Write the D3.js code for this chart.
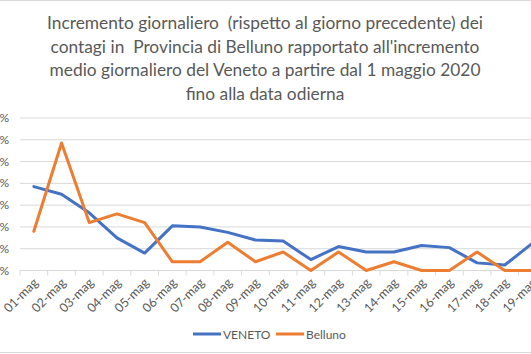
<!DOCTYPE html>
<html><head><meta charset="utf-8">
<script src="https://cdn.jsdelivr.net/npm/d3@7/dist/d3.min.js"></script>
<style>
html,body{margin:0;padding:0;background:#fff;overflow:hidden}
svg{display:block;font-family:Lato,"Open Sans",sans-serif}
</style></head>
<body>
<svg id="c" width="531" height="354"></svg>
<script>
const categories = ["01-mag","02-mag","03-mag","04-mag","05-mag","06-mag","07-mag","08-mag","09-mag","10-mag","11-mag","12-mag","13-mag","14-mag","15-mag","16-mag","17-mag","18-mag","19-mag"];
const veneto  = [0.77,0.70,0.53,0.30,0.16,0.41,0.40,0.35,0.28,0.27,0.10,0.22,0.17,0.17,0.23,0.21,0.07,0.05,0.25];
const belluno = [0.36,1.17,0.44,0.52,0.44,0.08,0.08,0.26,0.08,0.17,0.00,0.17,0.00,0.08,0.00,0.00,0.17,0.00,0.00];
const yTicks = [0,0.2,0.4,0.6,0.8,1.0,1.2,1.4];
const titleLines = ["Incremento giornaliero  (rispetto al giorno precedente) dei","contagi in  Provincia di Belluno rapportato all'incremento","medio giornaliero del Veneto a partire dal 1 maggio 2020","fino alla data odierna"];
const seriesNames = ["VENETO","Belluno"];
const colors = ["#4472C4","#ED7D31"];

const svg = d3.select("#c");
const grey = "#595959", gridC = "#d9d9d9";

// chart border
svg.append("rect").attr("x",-10).attr("y",0.5).attr("width",560).attr("height",352)
  .attr("fill","none").attr("stroke",gridC);

// title
const tg = svg.append("g");
const tl = tg.selectAll("text").data(titleLines).join("text")
  .attr("x",265).attr("y",(d,i)=>29+i*23.5).attr("text-anchor","middle")
  .attr("fill",grey).attr("font-size",18).style("white-space","pre").text(d=>d);
const w0 = tl.nodes()[0].getComputedTextLength();
tl.attr("font-size", 18*436/w0);

const x = d3.scaleBand().domain(categories).range([20, 20+19*27.7]);
const y = d3.scaleLinear().domain([0,1.4]).range([270.5,118]);

// gridlines
svg.append("g").selectAll("line").data(yTicks.slice(1)).join("line")
  .attr("x1",20).attr("x2",560).attr("y1",d=>y(d)).attr("y2",d=>y(d))
  .attr("stroke",gridC).attr("stroke-width",1);

// y labels
const fmt = d => d3.format(".1f")(d).replace(".",",")+"%";
svg.append("g").selectAll("text").data(yTicks).join("text")
  .attr("x",9).attr("y",d=>y(d)+4).attr("text-anchor","end")
  .attr("fill",grey).attr("font-size",12).text(fmt);

// x axis
const xa = svg.append("g").attr("transform","translate(0,270.5)");
xa.append("line").attr("x1",20).attr("x2",560).attr("stroke",gridC);
xa.selectAll("line.t").data(categories).join("line").attr("class","t")
  .attr("x1",d=>x(d)).attr("x2",d=>x(d)).attr("y1",0).attr("y2",5).attr("stroke",gridC);
xa.selectAll("text").data(categories).join("text")
  .attr("text-anchor","end").attr("fill",grey).attr("font-size",12.5)
  .attr("transform",d=>`translate(${x(d)+x.bandwidth()/2+5},${13}) rotate(-45)`)
  .text(d=>d);

// lines
const line = d3.line().x((d,i)=>x(categories[i])+x.bandwidth()/2).y(d=>y(d));
[veneto, belluno].forEach((s,k)=>{
  svg.append("path").datum(s).attr("d",line).attr("fill","none")
    .attr("stroke",colors[k]).attr("stroke-width",3).attr("stroke-linejoin","round").attr("stroke-linecap","round");
});

// legend
const lg = svg.append("g");
const lx = [193, 276];
seriesNames.forEach((n,k)=>{
  lg.append("line").attr("x1",lx[k]).attr("x2",lx[k]+28).attr("y1",334).attr("y2",334)
    .attr("stroke",colors[k]).attr("stroke-width",3);
  lg.append("text").attr("x",lx[k]+30).attr("y",338.5).attr("fill",grey).attr("font-size",12).text(n);
});
</script>
</body></html>
